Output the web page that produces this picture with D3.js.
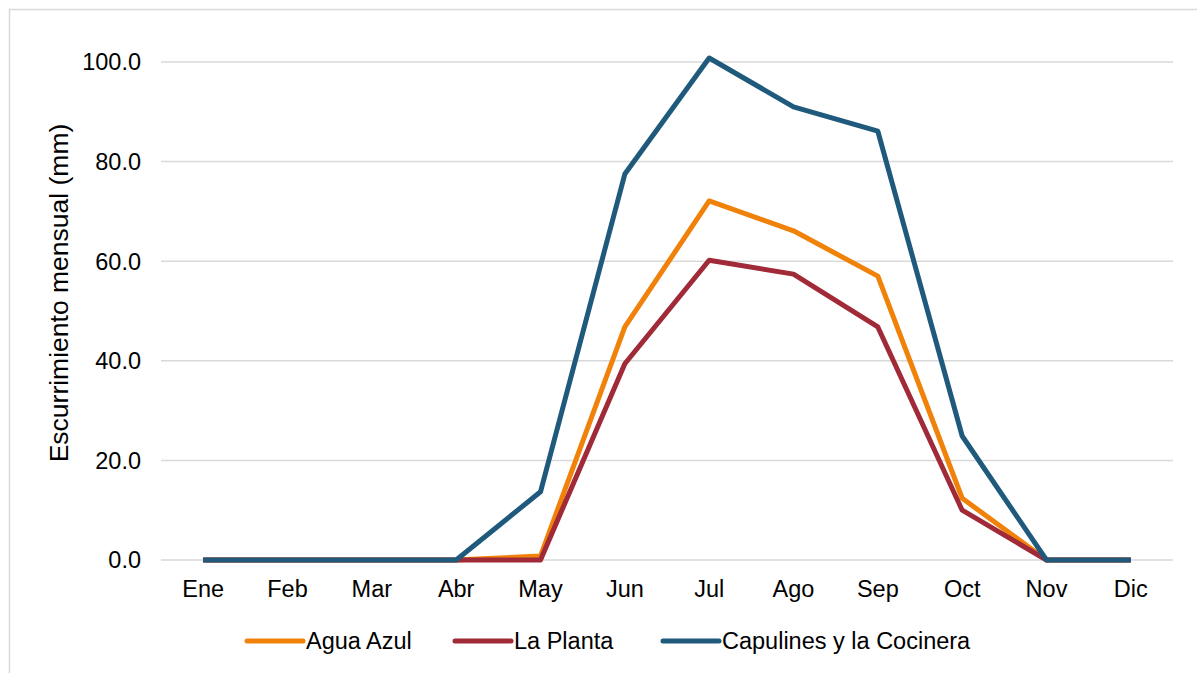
<!DOCTYPE html>
<html>
<head>
<meta charset="utf-8">
<script src="https://cdn.jsdelivr.net/npm/d3@7"></script>
<style>
  body { margin: 0; background: #fff; }
  svg { display: block; font-family: "Liberation Sans", Arial, sans-serif; }
</style>
</head>
<body>
<svg id="chart"></svg>
<script>
var months = ['Ene','Feb','Mar','Abr','May','Jun','Jul','Ago','Sep','Oct','Nov','Dic']
var aguaAzul = [0, 0, 0, 0, 0.8, 46.8, 72.1, 66.1, 57.0, 12.4, 0, 0]
var laPlanta = [0, 0, 0, 0, 0, 39.4, 60.2, 57.4, 46.8, 10.0, 0, 0]
var capulines = [0, 0, 0, 0, 13.7, 77.5, 100.8, 91.0, 86.1, 24.9, 0, 0]
var yTicks = [0, 20, 40, 60, 80, 100]
var seriesNames = ['Agua Azul', 'La Planta', 'Capulines y la Cocinera']
var seriesColors = ['#f0820a', '#a02a38', '#1f5a7c']

var screen = { width: 1197, height: 673 }
var margins = { top: 62, left: 161, right: 24, bottom: 113 }
var width = screen.width - margins.left - margins.right
var height = screen.height - margins.top - margins.bottom

var svg = d3.select('#chart')
  .attr('width', screen.width)
  .attr('height', screen.height)

// outer chart border (cut off right and bottom)
svg.append('rect')
  .attr('x', 9.5).attr('y', 9.5)
  .attr('width', 1200).attr('height', 700)
  .attr('fill', 'none')
  .attr('stroke', '#d9d9d9')
  .attr('stroke-width', 1.5)

var xScale = d3.scalePoint()
  .domain(months)
  .range([0, width])
  .padding(0.5)

// 0 at y=560, 100 at y=62
var yScale = d3.scaleLinear()
  .domain([0, 100])
  .range([height, 0])

var plot = svg.append('g')
  .attr('transform', 'translate(' + margins.left + ',' + margins.top + ')')

// gridlines
plot.selectAll('line.grid')
  .data(yTicks)
  .enter()
  .append('line')
  .attr('class', 'grid')
  .attr('x1', 0)
  .attr('x2', width)
  .attr('y1', function(d){ return yScale(d) })
  .attr('y2', function(d){ return yScale(d) })
  .attr('stroke', '#d9d9d9')
  .attr('stroke-width', 1.5)

// y tick labels
plot.selectAll('text.ytick')
  .data(yTicks)
  .enter()
  .append('text')
  .attr('class', 'ytick')
  .attr('x', -20)
  .attr('y', function(d){ return yScale(d) })
  .attr('dy', '0.36em')
  .attr('text-anchor', 'end')
  .attr('font-size', '23.5px')
  .attr('fill', '#000')
  .text(function(d){ return d.toFixed(1) })

// x tick labels
plot.selectAll('text.xtick')
  .data(months)
  .enter()
  .append('text')
  .attr('class', 'xtick')
  .attr('x', function(d){ return xScale(d) })
  .attr('y', yScale(0) + 37)
  .attr('text-anchor', 'middle')
  .attr('font-size', '23.5px')
  .attr('fill', '#000')
  .text(function(d){ return d })

// y axis title
svg.append('text')
  .attr('transform', 'translate(68,293) rotate(-90)')
  .attr('text-anchor', 'middle')
  .attr('font-size', '26.5px')
  .attr('fill', '#000')
  .text('Escurrimiento mensual (mm)')

var line = d3.line()
  .x(function(d, i){ return xScale(months[i]) })
  .y(function(d){ return yScale(d) })

var allSeries = [aguaAzul, laPlanta, capulines]
allSeries.forEach(function(s, i){
  plot.append('path')
    .datum(s)
    .attr('d', line)
    .attr('fill', 'none')
    .attr('stroke', seriesColors[i])
    .attr('stroke-width', 5)
    .attr('stroke-linejoin', 'round')
})

// legend
var legendX = [247, 455, 663]
seriesNames.forEach(function(name, i){
  var g = svg.append('g')
    .attr('transform', 'translate(' + legendX[i] + ',641)')
  g.append('line')
    .attr('x1', 0).attr('x2', 56)
    .attr('y1', 0).attr('y2', 0)
    .attr('stroke', seriesColors[i])
    .attr('stroke-width', 5)
    .attr('stroke-linecap', 'round')
  g.append('text')
    .attr('x', 59)
    .attr('y', 0)
    .attr('dy', '0.36em')
    .attr('font-size', '23.5px')
    .attr('fill', '#000')
    .text(name)
})
</script>
</body>
</html>
